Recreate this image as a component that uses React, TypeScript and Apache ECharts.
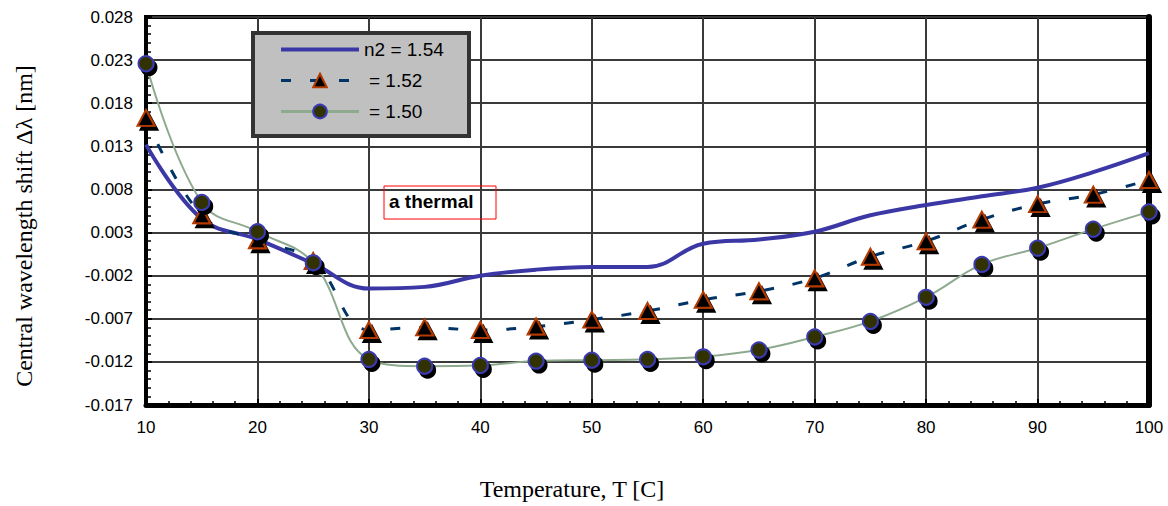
import React, { useEffect, useRef } from "react";
import * as echarts from "echarts";

// ---- data ----
const temperatures = [10, 15, 20, 25, 30, 35, 40, 45, 50, 55, 60, 65, 70, 75, 80, 85, 90, 95, 100];
const shiftN154 = [0.0132, 0.0046, 0.0022, -0.0006, -0.0035, -0.0033, -0.002, -0.0013, -0.001, -0.001, 0.0017, 0.0022, 0.0031, 0.005, 0.0062, 0.0072, 0.0082, 0.01, 0.0122];
const shiftN152 = [0.0163, 0.005, 0.0021, -0.0003, -0.0083, -0.008, -0.0083, -0.0079, -0.0071, -0.0061, -0.0048, -0.0038, -0.0023, 0.0002, 0.002, 0.0045, 0.0063, 0.0074, 0.0091];
const shiftN150 = [0.0226, 0.0065, 0.0031, -0.0005, -0.0117, -0.0125, -0.0124, -0.0119, -0.0118, -0.0117, -0.0114, -0.0106, -0.0091, -0.0073, -0.0045, -0.0007, 0.0012, 0.0034, 0.0054];
const seriesNames = ["n2 = 1.54", "= 1.52", "= 1.50"];
const yMin = -0.017;
const yMax = 0.028;
const yStep = 0.005;
const xMin = 10;
const xMax = 100;
const xStep = 10;
const xTitle = "Temperature, T [C]";
const yTitle = "Central wavelength shift \u0394\u03bb [nm]";
const annotationText = "a thermal";

const pairs = (vals: number[]) => temperatures.map((t, i) => [t, vals[i]]);

const SANS = '"Liberation Sans", Arial, sans-serif';
const SERIF = '"Liberation Serif", "Times New Roman", serif';

export default function App() {
  const ref = useRef<HTMLDivElement>(null);
  useEffect(() => {
    if (!ref.current) return;
    const chart = echarts.init(ref.current, undefined, { renderer: "svg" });
    const markerShadow = { shadowColor: "#000", shadowOffsetX: 3, shadowOffsetY: 4, shadowBlur: 0 };
    const option: any = {
      animation: false,
      backgroundColor: "#ffffff",
      grid: {
        left: 146,
        top: 17,
        right: 19,
        bottom: 101,
        show: true,
        borderColor: "#000",
        borderWidth: 4,
        backgroundColor: "transparent",
        outerBoundsMode: "none",
      },
      xAxis: {
        type: "value",
        min: xMin,
        max: xMax,
        interval: xStep,
        axisLine: { show: true, onZero: false, lineStyle: { color: "#000", width: 5 } },
        axisTick: { show: true, inside: true, length: 6, lineStyle: { color: "#000", width: 2 } },
        minorTick: { show: true, splitNumber: 5, length: 4, lineStyle: { color: "#000", width: 1.5 } },
        splitLine: { show: true, lineStyle: { color: "#3a3a3a", width: 2 } },
        axisLabel: { color: "#000", fontSize: 17, fontFamily: SANS, margin: 14 },
      },
      yAxis: [
        {
          type: "value",
          min: yMin,
          max: yMax,
          interval: yStep,
          axisLine: { show: true, onZero: false, lineStyle: { color: "#000", width: 4 } },
          axisTick: { show: true, inside: true, length: 6, lineStyle: { color: "#000", width: 2 } },
          minorTick: { show: true, splitNumber: 5, length: 5, lineStyle: { color: "#000", width: 1.5 } },
          splitLine: { show: true, lineStyle: { color: "#3a3a3a", width: 2 } },
          axisLabel: {
            color: "#000",
            fontSize: 17,
            fontFamily: SANS,
            margin: 13,
            formatter: (v: number) => v.toFixed(3),
          },
        },
        {
          type: "value",
          position: "right",
          min: yMin,
          max: yMax,
          interval: yStep,
          axisLine: { show: true, onZero: false, lineStyle: { color: "#000", width: 6 } },
          axisTick: { show: false },
          axisLabel: { show: false },
          splitLine: { show: false },
        },
      ],
      legend: {
        orient: "vertical",
        left: 279,
        top: 40,
        padding: 0,
        itemWidth: 78,
        itemHeight: 17,
        itemGap: 12,
        selectedMode: false,
        z: 5,
        textStyle: { color: "#000", fontSize: 19, fontFamily: SANS },
        data: [
          { name: seriesNames[0], lineStyle: { width: 4 }, itemStyle: { opacity: 0 } },
          { name: seriesNames[1], lineStyle: { width: 3 }, textStyle: { padding: [0, 0, 0, 5] } },
          { name: seriesNames[2], lineStyle: { width: 3 }, textStyle: { padding: [0, 0, 0, 5] } },
        ],
      },
      series: [
        {
          name: seriesNames[0],
          type: "line",
          data: pairs(shiftN154),
          smooth: 0.4,
          symbol: "none",
          lineStyle: { color: "#3b38a6", width: 4 },
          itemStyle: { color: "#3b38a6" },
        },
        {
          name: seriesNames[1],
          type: "line",
          data: pairs(shiftN152),
          smooth: 0.4,
          symbol: "triangle",
          symbolSize: [17, 16],
          lineStyle: { color: "#003366", width: 3, type: [10, 19] },
          itemStyle: { color: "#000", borderColor: "#b33a00", borderWidth: 2, ...markerShadow },
        },
        {
          name: seriesNames[2],
          type: "line",
          data: pairs(shiftN150),
          smooth: 0.4,
          symbol: "circle",
          symbolSize: 15,
          lineStyle: { color: "#8eaa8e", width: 2 },
          itemStyle: { color: "#333300", borderColor: "#3a3ab0", borderWidth: 2, ...markerShadow },
        },
      ],
      graphic: [
        {
          type: "rect",
          z: 3,
          shape: { x: 253, y: 33, width: 216, height: 103 },
          style: { fill: "#c0c0c0", stroke: "#333", lineWidth: 4 },
        },
        {
          type: "rect",
          z: 3,
          shape: { x: 384, y: 186, width: 112, height: 33 },
          style: { fill: "none", stroke: "#ff0000", lineWidth: 1 },
        },
        {
          type: "text",
          z: 5,
          x: 389,
          y: 201,
          style: {
            text: annotationText,
            font: "bold 19px " + SANS,
            fill: "#000",
            verticalAlign: "middle",
            textVerticalAlign: "middle",
          },
        },
        {
          type: "text",
          x: 572,
          y: 489,
          style: {
            text: xTitle,
            font: "24px " + SERIF,
            fill: "#000",
            align: "center",
            textAlign: "center",
            verticalAlign: "middle",
            textVerticalAlign: "middle",
          },
        },
        {
          type: "text",
          x: 24,
          y: 226,
          rotation: Math.PI / 2,
          style: {
            text: yTitle,
            font: "24px " + SERIF,
            fill: "#000",
            align: "center",
            textAlign: "center",
            verticalAlign: "middle",
            textVerticalAlign: "middle",
          },
        },
      ],
    };
    chart.setOption(option);
    return () => chart.dispose();
  }, []);
  return <div ref={ref} style={{ position: "absolute", left: 0, top: 0, width: 1168, height: 506 }} />;
}
